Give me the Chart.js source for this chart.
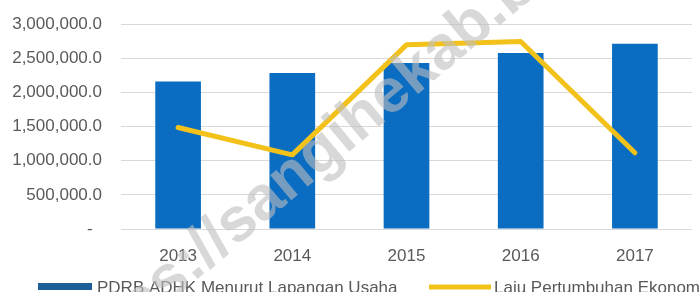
<!DOCTYPE html>
<html>
<head>
  <meta charset="UTF-8">
  <title>PDRB ADHK dan Laju Pertumbuhan Ekonomi</title>
  <script src="https://cdn.jsdelivr.net/npm/chart.js"></script>
  <style>
    html, body { margin: 0; padding: 0; background: #fff; overflow: hidden; }
    #wrap { width: 699px; height: 292px; position: relative; }
  </style>
</head>
<body>
  <div id="wrap"><canvas id="pdrbChart"></canvas></div>

  <script>
    // data
    const years = ['2013', '2014', '2015', '2016', '2017'];
    const pdrb = [2159000, 2282000, 2428000, 2575000, 2711000];
    const laju = [2.97, 2.17, 5.39, 5.49, 2.23];
    const pdrbLabel = 'PDRB ADHK Menurut Lapangan Usaha';
    const lajuLabel = 'Laju Pertumbuhan Ekonomi';
    const yMax = 3000000;
    const yStep = 500000;

    const barBlue = '#0A6DC2';
    const legendBlue = '#1B5E98';
    const gold = '#F2C21B';

    Chart.defaults.font.family = 'Liberation Sans';
    Chart.defaults.font.size = 17;
    Chart.defaults.color = '#595959';

    function fmt(v) {
      if (v === 0) return '-  ';
      return v.toLocaleString('en-US', { minimumFractionDigits: 1, maximumFractionDigits: 1 });
    }

    // legend drawn by hand so the items sit where they do in the original
    const bottomLegend = {
      id: 'bottomLegend',
      afterDraw(chart) {
        const ctx = chart.ctx;
        ctx.save();
        ctx.fillStyle = legendBlue;
        ctx.fillRect(38, 283, 54, 7);
        ctx.strokeStyle = gold;
        ctx.lineWidth = 5;
        ctx.beginPath();
        ctx.moveTo(429, 287);
        ctx.lineTo(491, 287);
        ctx.stroke();
        ctx.font = '17px "Liberation Sans"';
        ctx.fillStyle = '#595959';
        ctx.textBaseline = 'alphabetic';
        ctx.fillText(chart.data.datasets[1].label, 97, 293);
        ctx.fillText(chart.data.datasets[0].label, 494, 293);
        ctx.restore();
      }
    };

    const watermark = {
      id: 'watermark',
      afterDraw(chart) {
        const ctx = chart.ctx;
        ctx.save();
        ctx.translate(66, 367);
        ctx.rotate(-40 * Math.PI / 180);
        ctx.font = 'bold 62px "Liberation Sans"';
        ctx.fillStyle = 'rgba(190,190,190,0.6)';
        ctx.textBaseline = 'middle';
        ctx.fillText('https://sangihekab.bps.go.id', 0, 0);
        ctx.restore();
      }
    };

    // drop the label half-height padding so layout.padding.top alone sets the top line
    function noVPad(s) {
      s.paddingTop = 0;
      s.paddingBottom = 0;
    }

    new Chart(document.getElementById('pdrbChart'), {
      type: 'bar',
      data: {
        labels: years,
        datasets: [
          {
            type: 'line',
            label: lajuLabel,
            data: laju,
            yAxisID: 'y2',
            borderColor: gold,
            borderWidth: 5,
            pointRadius: 0,
            tension: 0,
            borderCapStyle: 'round',
            borderJoinStyle: 'round',
            order: 0
          },
          {
            label: pdrbLabel,
            data: pdrb,
            yAxisID: 'y',
            backgroundColor: barBlue,
            barPercentage: 0.4,
            categoryPercentage: 1.0,
            order: 1
          }
        ]
      },
      options: {
        responsive: true,
        maintainAspectRatio: false,
        animation: false,
        layout: { padding: { left: 11, right: 7, top: 24, bottom: 23 } },
        plugins: {
          legend: { display: false },
          tooltip: { enabled: false }
        },
        scales: {
          x: {
            grid: { display: false, drawTicks: false },
            border: { display: false },
            ticks: { padding: 17 },
            afterFit: s => { s.height = 40; }
          },
          y: {
            min: 0,
            max: yMax,
            ticks: { stepSize: yStep, padding: 19, callback: v => fmt(v) },
            grid: { color: '#d9d9d9', drawTicks: false },
            border: { display: false },
            afterFit: s => { s.width = 110; noVPad(s); }
          },
          y2: {
            display: false,
            position: 'right',
            min: 0,
            max: 6,
            afterFit: noVPad
          }
        }
      },
      plugins: [bottomLegend, watermark]
    });
  </script>
</body>
</html>
